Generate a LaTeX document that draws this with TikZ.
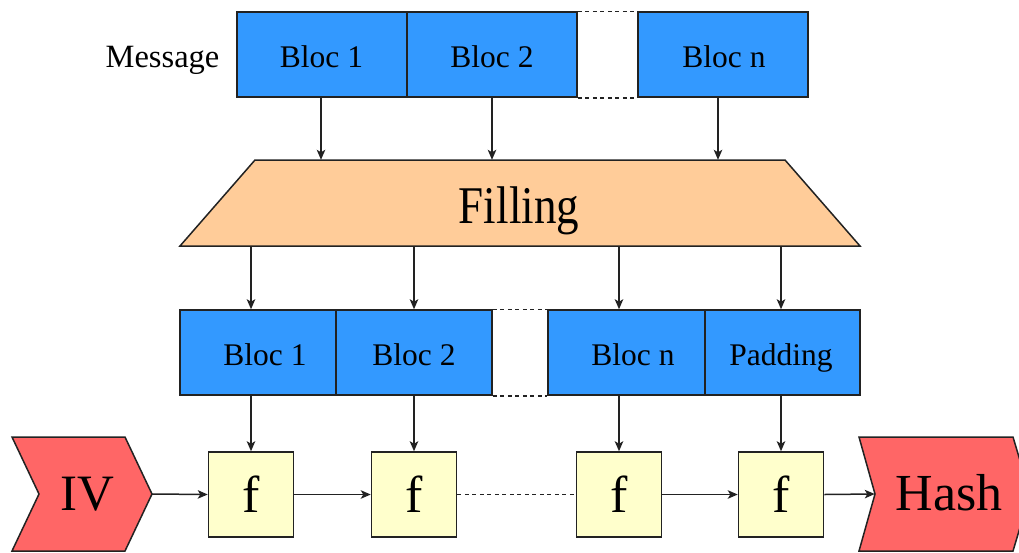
\documentclass[tikz,border=0pt]{standalone}
\usepackage{fontspec}
\setmainfont{Liberation Serif}
\newfontfamily\narrowserif[FakeStretch=0.85]{Liberation Serif}
\usetikzlibrary{arrows.meta}

\definecolor{blocblue}{HTML}{3399FF}
\definecolor{fillpeach}{HTML}{FFCC99}
\definecolor{fnyellow}{HTML}{FFFFCC}
\definecolor{endred}{HTML}{FF6666}
\definecolor{edge}{HTML}{222222}

\tikzset{
  bloc/.style={draw=edge, line width=1.5pt, fill=blocblue, inner sep=0pt,
               minimum width=#1, minimum height=85pt},
  bloc/.default=170pt,
  fnbox/.style={draw=edge, line width=1.5pt, fill=fnyellow, inner sep=0pt,
                minimum width=85pt, minimum height=85pt,
                font=\fontsize{52}{60}\selectfont},
  frame/.style={inner sep=0pt, draw=none},
  label/.style={anchor=base, inner sep=0pt, font=\fontsize{31.5}{36}\selectfont},
  biglabel/.style={anchor=base, inner sep=0pt, font=\fontsize{51}{60}\selectfont},
  flow/.style={draw=edge, line width=1.5pt,
               -{Stealth[length=10pt,width=8.5pt,inset=2.5pt]}},
  gap/.style={draw=edge, line width=1.5pt, dash pattern=on 4pt off 3.5pt},
  shapeline/.style={draw=edge, line width=1.5pt, line join=miter},
}

\begin{document}
\begin{tikzpicture}[x=1pt,y=-1pt]
\useasboundingbox (0,0) rectangle (1019,552);
\clip (0,0) rectangle (1019,552);

% ---------- message blocks ----------
\node[label, font=\fontsize{32.5}{38}\selectfont] (msg) at (162.5,67) {Message};
\node[bloc] (m1) at (322,54.5) {};
\node[bloc] (m2) at (492,54.5) {};
\node[bloc] (mn) at (723,54.5) {};
\node[label] (m1t) at (321.5,67) {Bloc 1};
\node[label] (m2t) at (492,67) {Bloc 2};
\node[label] (mnt) at (724,67) {Bloc n};
\draw[gap] (m2.north east) -- (mn.north west);
\draw[gap] (m2.south east) -- (mn.south west);

% ---------- filling stage ----------
\path[shapeline, fill=fillpeach] (180,246) -- (255,160) -- (785,160) -- (860,246) -- cycle;
\node[frame, minimum width=680pt, minimum height=86pt] (fill) at (520,203) {};
\node[anchor=base, inner sep=0pt, font=\narrowserif\fontsize{53}{60}\selectfont] (fillt) at (519,223) {Filling};

\draw[flow] ([xshift=-1pt]m1.south) -- ([xshift=-1pt]m1.south |- fill.north);
\draw[flow] (m2.south) -- (m2.south |- fill.north);
\draw[flow] ([xshift=-5pt]mn.south) -- ([xshift=-5pt]mn.south |- fill.north);

% ---------- padded blocks ----------
\node[bloc=156pt] (p1) at (258,352.5) {};
\node[bloc=156pt] (p2) at (414,352.5) {};
\node[bloc=157pt] (pn) at (626.5,352.5) {};
\node[bloc=155pt] (pp) at (782.5,352.5) {};
\node[label] (p1t) at (265,365) {Bloc 1};
\node[label] (p2t) at (414,365) {Bloc 2};
\node[label] (pnt) at (633,365) {Bloc n};
\node[label] (ppt) at (781,365) {Padding};
\draw[gap] (p2.north east) -- (pn.north west);
\draw[gap] (p2.south east) -- (pn.south west);

% ---------- compression chain ----------
\node[fnbox] (f1) at (251,494.5) {f};
\node[fnbox] (f2) at (414,494.5) {f};
\node[fnbox] (f3) at (619,494.5) {f};
\node[fnbox] (f4) at (781,494.5) {f};

\draw[flow] (fill.south -| f1) -- ([xshift=-7pt]p1.north);
\draw[flow] (fill.south -| f2) -- (p2.north);
\draw[flow] (fill.south -| f3) -- ([xshift=-7.5pt]pn.north);
\draw[flow] (fill.south -| f4) -- (pp.north -| f4);

\draw[flow] ([xshift=-7pt]p1.south) -- (f1.north);
\draw[flow] (p2.south) -- (f2.north);
\draw[flow] ([xshift=-7.5pt]pn.south) -- (f3.north);
\draw[flow] (pp.south -| f4) -- (f4.north);

% initial value and final hash
\path[shapeline, fill=endred] (12,437) -- (125,437) -- (152,494) -- (125,551)
  -- (12,551) -- (39,494) -- cycle;
\node[frame, minimum width=140pt, minimum height=114pt] (iv) at (82,494) {};
\node[biglabel] (ivt) at (87,510.5) {IV};

\path[shapeline, fill=endred] (859,437) -- (1013,437) -- (1030,494) -- (1013,551)
  -- (859,551) -- (875,494) -- cycle;
\node[frame, minimum width=155pt, minimum height=114pt] (hash) at (952.5,494) {};
\node[biglabel, font=\fontsize{52}{60}\selectfont] (hasht) at (949,510) {Hash};

\draw[flow] (iv.east) -- (f1.west);
\draw[flow] (f1.east) -- (f2.west);
\draw[gap] (f2.east) -- (f3.west);
\draw[flow] (f3.east) -- (f4.west);
\draw[flow] (f4.east) -- (hash.west);
\end{tikzpicture}
\end{document}
